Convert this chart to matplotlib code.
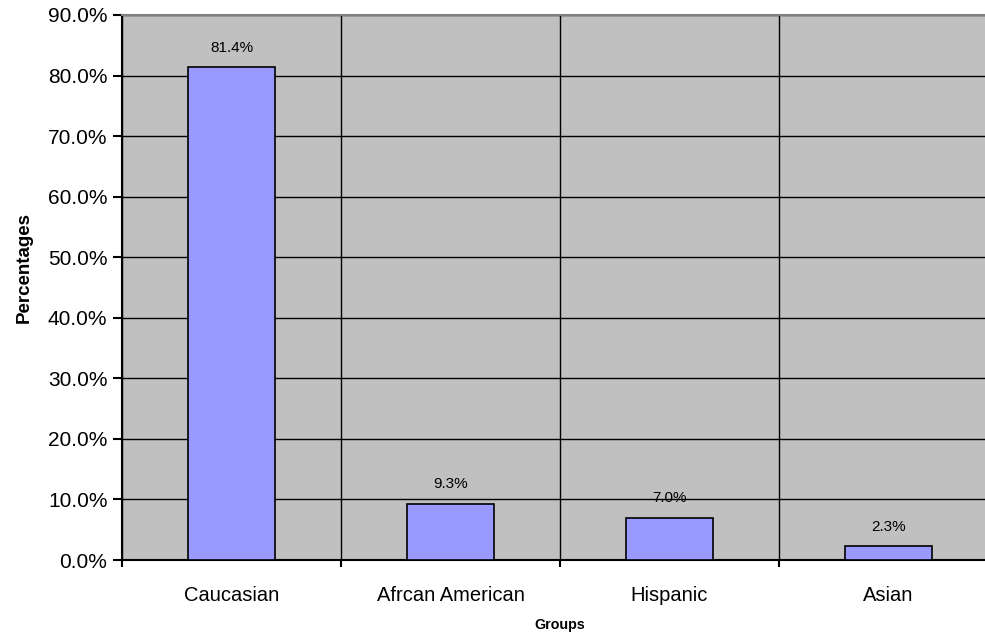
import numpy as np
import matplotlib.pyplot as plt
from matplotlib.ticker import PercentFormatter

groups = ['Caucasian', 'Afrcan American', 'Hispanic', 'Asian']
pcts = [81.4, 9.3, 7.0, 2.3]
yticks = np.arange(0, 91, 10)

plt.rcParams['font.family'] = ['Liberation Sans', 'DejaVu Sans']

fig = plt.figure(figsize=(9.85, 6.36), dpi=100)
# plot area runs a little past the right edge, like the original
ax = fig.add_axes([122/985, 76/636, 876/985, 545/636])
ax.set_facecolor('#c0c0c0')

x = np.arange(len(groups))
bars = ax.bar(x, pcts, width=0.4, color='#9999ff', edgecolor='black', linewidth=1.2, zorder=3)

for b, v in zip(bars, pcts):
    ax.annotate(f'{v:.1f}%', (b.get_x() + b.get_width()/2, v), xytext=(0, 14),
                textcoords='offset points', ha='center', va='center', fontsize=11, zorder=4)

ax.set_xlim(-0.5, len(groups) - 0.5)
ax.set_ylim(0, 90)
ax.set_yticks(yticks)
ax.yaxis.set_major_formatter(PercentFormatter(decimals=1))
ax.set_xticks(x)
ax.set_xticklabels(groups, fontsize=14.5)
ax.set_xticks(np.arange(-0.5, len(groups)), minor=True)
ax.tick_params(axis='x', which='major', length=0, pad=19)
ax.tick_params(axis='x', which='minor', length=5, width=1.5, direction='out')
ax.tick_params(axis='y', length=6.5, width=1.5, direction='out', labelsize=15, pad=4)

ax.grid(True, axis='y', color='black', linewidth=1, zorder=1)
ax.grid(True, axis='x', which='minor', color='black', linewidth=1, zorder=1)
ax.set_axisbelow(True)

ax.spines['left'].set_linewidth(1.5)
ax.spines['bottom'].set_linewidth(1.5)
ax.spines['top'].set_color('#808080')
ax.spines['top'].set_linewidth(1.5)
ax.spines['right'].set_visible(False)

ax.set_xlabel('Groups', fontsize=10.3, fontweight='bold')
ax.set_ylabel('Percentages', fontsize=13.5, fontweight='bold')
ax.xaxis.set_label_coords(0.5, -0.106)
ax.yaxis.set_label_coords(-0.102, 0.536)

plt.savefig('out.png', dpi=100)
